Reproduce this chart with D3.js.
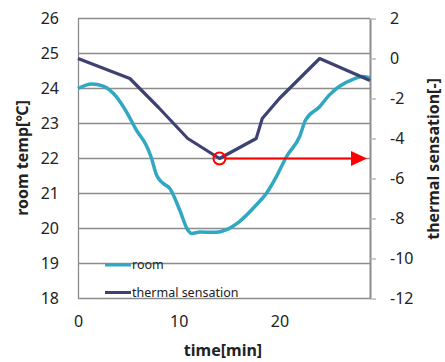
<!DOCTYPE html>
<html lang="en">
	<head>
		<meta charset="utf-8">
		<title>room temp / thermal sensation</title>
		<script type="text/javascript" src="https://cdn.jsdelivr.net/npm/d3@7"></script>
		<style type="text/css">
			body { margin: 0; background: #fff; }
			text { font-family: "Noto Sans", "DejaVu Sans", sans-serif; fill: #222; }
		</style>
	</head>
	<body>
		<script type="text/javascript">

			// room temperature [C] over time [min]
			var roomTime = [0, 1.35, 2.5, 3.8, 4.8, 5.8, 6.75, 7.25, 7.8, 8.45, 9.1, 10.1, 10.9, 11.3, 12.1, 13.7, 14.7, 16.0, 17.7, 18.7, 19.7, 20.7, 22.0, 22.6, 24.0, 24.95, 25.9, 27.3, 28.25, 29];
			var roomTemp = [24.0, 24.13, 24.07, 23.77, 23.34, 22.81, 22.39, 22.05, 21.53, 21.29, 21.15, 20.53, 19.96, 19.86, 19.9, 19.89, 19.96, 20.19, 20.67, 21.0, 21.48, 22.05, 22.62, 23.1, 23.48, 23.81, 24.05, 24.26, 24.34, 24.3];

			// thermal sensation [-]
			var sensTime = [0, 5.15, 8, 10.9, 14.05, 17.7, 18.3, 20, 21.8, 24.0, 29];
			var sensValue = [0, -1.0, -2.45, -4.0, -5.0, -4.0, -3.0, -2.0, -1.1, 0, -1.1];

			// highlighted point and arrow toward the right axis
			var markPoint = [14.05, -5];
			var arrowEnd = [29, -5];

			var timeTicks = [0, 10, 20];
			var tempTicks = [18, 19, 20, 21, 22, 23, 24, 25, 26];
			var sensTicks = [-12, -10, -8, -6, -4, -2, 0, 2];
			var sensLabels = ["-12", "-10", "-8", "-6", "-4", "-2", "0", "2"];

			var w = 445;
			var h = 362;

			var xScale = d3.scaleLinear().domain([0, 29]).range([78, 370]);
			var yScale = d3.scaleLinear().domain([18, 26]).range([298.5, 18.5]);
			var ySens = d3.scaleLinear().domain([-12, 2]).range([298.5, 18.5]);

			var svg = d3.select("body")
						.append("svg")
						.attr("width", w)
						.attr("height", h);

			// arrowhead
			svg.append("defs")
			   .append("marker")
			   .attr("id", "head")
			   .attr("markerUnits", "userSpaceOnUse")
			   .attr("markerWidth", 16)
			   .attr("markerHeight", 16)
			   .attr("refX", 1)
			   .attr("refY", 7.5)
			   .attr("orient", "auto")
			   .append("path")
			   .attr("d", "M0,0 L16,7.5 L0,15 Z")
			   .attr("fill", "#ff0000");

			//gridlines
			svg.append("g")
			   .selectAll("line")
			   .data(tempTicks)
			   .enter()
			   .append("line")
			   .attr("x1", xScale(0))
			   .attr("x2", xScale(29))
			   .attr("y1", function(d) { return yScale(d); })
			   .attr("y2", function(d) { return yScale(d); })
			   .attr("stroke", "#8c8c8c")
			   .attr("stroke-width", 1.3);

			//left axis
			var yAxis = d3.axisLeft(yScale)
						  .tickValues(tempTicks)
						  .tickSize(0)
						  .tickPadding(19);
			var gy = svg.append("g")
			   .attr("transform", "translate(" + xScale(0) + ",0)")
			   .call(yAxis);
			gy.select(".domain").attr("stroke", "#8c8c8c").attr("stroke-width", 1.3);
			gy.selectAll("text").style("font-size", "16px").attr("fill", "#222");

			//right axis
			var yAxisR = d3.axisRight(ySens)
						   .tickValues(sensTicks)
						   .tickFormat(function(d, i) { return sensLabels[i]; })
						   .tickSize(6)
						   .tickSizeOuter(0)
						   .tickPadding(14);
			var gr = svg.append("g")
			   .attr("transform", "translate(" + xScale(29) + ",0)")
			   .call(yAxisR);
			gr.select(".domain").attr("stroke", "#8c8c8c").attr("stroke-width", 2);
			gr.selectAll("line").attr("stroke", "#b0b0b0").attr("stroke-width", 1.3);
			gr.selectAll("text").style("font-size", "16px").attr("fill", "#222");

			//bottom axis
			var xAxis = d3.axisBottom(xScale)
						  .tickValues(timeTicks)
						  .tickSize(0)
						  .tickPadding(17);
			var gx = svg.append("g")
			   .attr("transform", "translate(0," + yScale(18) + ")")
			   .call(xAxis);
			gx.select(".domain").remove();
			gx.selectAll("text").style("font-size", "16px").attr("fill", "#222");

			//room temp line
			var roomData = roomTime.map(function(t, i) { return [t, roomTemp[i]]; });
			svg.append("path")
			   .datum(roomData)
			   .attr("fill", "none")
			   .attr("stroke", "#30a8c2")
			   .attr("stroke-width", 3.5)
			   .attr("d", d3.line()
					.x(function(d) { return xScale(d[0]); })
					.y(function(d) { return yScale(d[1]); })
					.curve(d3.curveMonotoneX));

			//thermal sensation line
			var sensData = sensTime.map(function(t, i) { return [t, sensValue[i]]; });
			svg.append("path")
			   .datum(sensData)
			   .attr("fill", "none")
			   .attr("stroke", "#3d4273")
			   .attr("stroke-width", 3.2)
			   .attr("stroke-linejoin", "round")
			   .attr("d", d3.line()
					.x(function(d) { return xScale(d[0]); })
					.y(function(d) { return ySens(d[1]); }));

			//red arrow + circle
			svg.append("line")
			   .attr("x1", xScale(markPoint[0]) + 6)
			   .attr("y1", ySens(markPoint[1]))
			   .attr("x2", xScale(arrowEnd[0]) - 18)
			   .attr("y2", ySens(arrowEnd[1]))
			   .attr("stroke", "#ff0000")
			   .attr("stroke-width", 2.2)
			   .attr("marker-end", "url(#head)");

			svg.append("circle")
			   .attr("cx", xScale(markPoint[0]))
			   .attr("cy", ySens(markPoint[1]))
			   .attr("r", 6)
			   .attr("fill", "none")
			   .attr("stroke", "#ff0000")
			   .attr("stroke-width", 2);

			//legend
			var legend = [["room", "#30a8c2"], ["thermal sensation", "#3d4273"]];
			var lg = svg.selectAll(".legend")
			   .data(legend)
			   .enter()
			   .append("g")
			   .attr("class", "legend")
			   .attr("transform", function(d, i) { return "translate(105," + (265 + i * 27.5) + ")"; });
			lg.append("line")
			   .attr("x1", 0).attr("x2", 26)
			   .attr("stroke", function(d) { return d[1]; })
			   .attr("stroke-width", 3);
			lg.append("text")
			   .attr("x", 27)
			   .attr("dy", "0.35em")
			   .style("font-size", "12.5px")
			   .attr("fill", "#333")
			   .text(function(d) { return d[0]; });

			//axis titles
			svg.append("text")
			   .attr("transform", "translate(28,158) rotate(-90)")
			   .attr("text-anchor", "middle")
			   .style("font-size", "16px")
			   .style("font-weight", "bold")
			   .text("room temp[℃]");

			svg.append("text")
			   .attr("transform", "translate(439,159) rotate(-90)")
			   .attr("text-anchor", "middle")
			   .style("font-size", "16px")
			   .style("font-weight", "bold")
			   .text("thermal sensation[-]");

			svg.append("text")
			   .attr("x", 223)
			   .attr("y", 356)
			   .attr("text-anchor", "middle")
			   .style("font-size", "16px")
			   .style("font-weight", "bold")
			   .text("time[min]");

		</script>
</body>
</html>
